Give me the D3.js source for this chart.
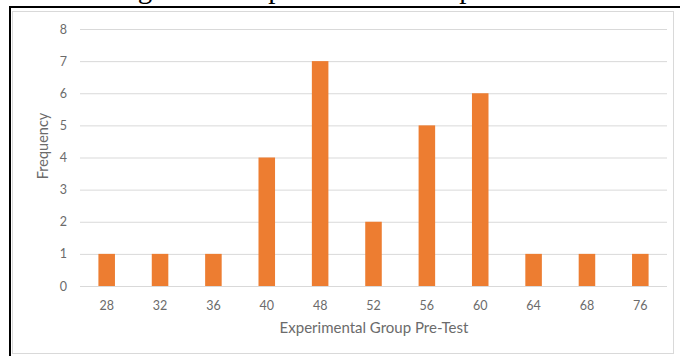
<!DOCTYPE html>
<html>
<head>
<meta charset="utf-8">
<script src="https://cdn.jsdelivr.net/npm/d3@7"></script>
<style>
  html, body { margin: 0; padding: 0; background: #fff; }
  svg { display: block; }
</style>
</head>
<body>
<svg id="chart" width="680" height="356"></svg>
<script>
// Score bins and how many students fell into each
const scores = ["28", "32", "36", "40", "48", "52", "56", "60", "64", "68", "76"];
const frequency = [1, 1, 1, 4, 7, 2, 5, 6, 1, 1, 1];
const yTicks = [0, 1, 2, 3, 4, 5, 6, 7, 8];
const xTitle = "Experimental Group Pre-Test";
const yTitle = "Frequency";
const caption = "Histogram of Experimental Group Pre-Test";

const svg = d3.select("#chart");
const W = 680, H = 356;
const plot = { left: 80, right: 667, top: 29, bottom: 286 };
const textColor = "#6b6b6b";
const gridColor = "#d9d9d9";
const barColor = "#ED7D31";
const font = "Lato, 'Open Sans', sans-serif";

// Caption sitting above the frame, mostly cut off by the top edge
svg.append("text")
  .attr("x", 75).attr("y", -2)
  .attr("font-family", "'Liberation Serif', 'DejaVu Serif', serif")
  .attr("font-size", 29)
  .attr("fill", "#000")
  .text(caption);

// Outer frame: black on the top and left, light border for the chart area
svg.append("rect")
  .attr("x", 12.5).attr("y", 11.5)
  .attr("width", 661).attr("height", 342)
  .attr("fill", "#fff").attr("stroke", gridColor).attr("stroke-width", 1);
svg.append("line").attr("x1", 9).attr("x2", W).attr("y1", 7).attr("y2", 7)
  .attr("stroke", "#000").attr("stroke-width", 2);
svg.append("line").attr("x1", 10).attr("x2", 10).attr("y1", 6).attr("y2", H)
  .attr("stroke", "#000").attr("stroke-width", 2);

const x = d3.scaleBand().domain(scores).range([plot.left, plot.right]).paddingInner(0.69).paddingOuter(0.345);
const y = d3.scaleLinear().domain([0, 8]).range([plot.bottom, plot.top]);

// Horizontal gridlines with value labels
const yAxis = d3.axisLeft(y).tickValues(yTicks).tickSize(-(plot.right - plot.left)).tickPadding(13);
const gy = svg.append("g").attr("transform", `translate(${plot.left},0)`).call(yAxis);
gy.select(".domain").remove();
gy.selectAll(".tick line").attr("stroke", gridColor).attr("stroke-width", 1);
gy.selectAll(".tick text").attr("fill", textColor).attr("font-family", font).attr("font-size", 12.5);

// Bars
svg.append("g").selectAll("rect")
  .data(scores.map((s, i) => ({ s, v: frequency[i] })))
  .join("rect")
  .attr("x", d => x(d.s))
  .attr("width", x.bandwidth())
  .attr("y", d => y(d.v))
  .attr("height", d => y(0) - y(d.v))
  .attr("fill", barColor);

// Category labels under the bars
const xAxis = d3.axisBottom(x).tickSize(0).tickPadding(15);
const gx = svg.append("g").attr("transform", `translate(0,${plot.bottom})`).call(xAxis);
gx.select(".domain").remove();
gx.selectAll(".tick text").attr("fill", textColor).attr("font-family", font).attr("font-size", 12.5);

// Axis titles
svg.append("text")
  .attr("x", 374).attr("y", 333)
  .attr("text-anchor", "middle")
  .attr("fill", textColor).attr("font-family", font).attr("font-size", 15)
  .text(xTitle);
svg.append("text")
  .attr("transform", `translate(48,146) rotate(-90)`)
  .attr("text-anchor", "middle")
  .attr("fill", textColor).attr("font-family", font).attr("font-size", 14.5)
  .text(yTitle);
</script>
</body>
</html>
